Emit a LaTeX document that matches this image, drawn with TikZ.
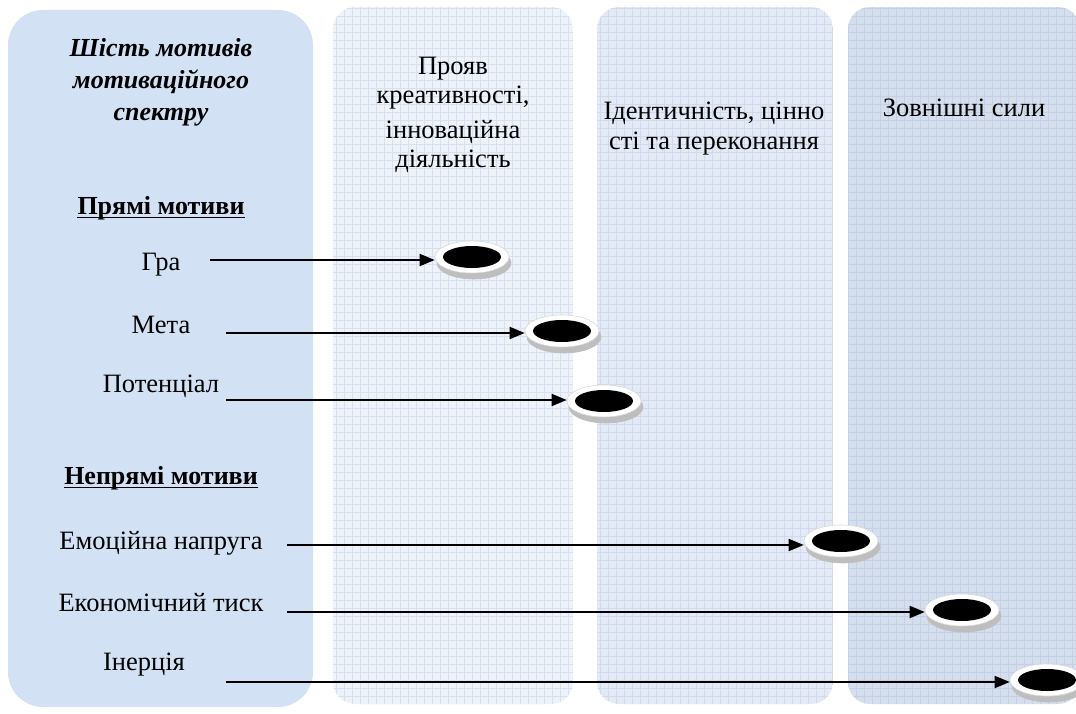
\documentclass[tikz,border=0pt]{standalone}
\usepackage{fontspec}
\setmainfont{Liberation Serif}
\usetikzlibrary{arrows.meta,shapes.geometric}

\definecolor{panelblue}{RGB}{211,225,244}
\definecolor{colA}{RGB}{238,242,249}
\definecolor{colAgrid}{RGB}{214,224,240}
\definecolor{colB}{RGB}{228,234,245}
\definecolor{colBgrid}{RGB}{208,218,236}
\definecolor{colC}{RGB}{213,222,237}
\definecolor{colCgrid}{RGB}{196,208,230}
\definecolor{rimgray}{RGB}{190,190,190}

\tikzset{
    txt/.style={font=\rmfamily\fontsize{26.5}{30}\selectfont, inner sep=0pt, align=center},
    disc/.style={ellipse, fill=white, draw=gray!30, line width=0.6pt,
        minimum width=74pt, minimum height=32pt, inner sep=0pt,
        path picture={\fill[black] (path picture bounding box.center)
            ellipse [x radius=29pt, y radius=11pt];},
        preaction={draw=rimgray, fill=rimgray,
            transform canvas={xshift=2pt, yshift=-6pt}}},
    link/.style={line width=1.8pt, -{Triangle[length=15pt, width=12pt]}},
}

\begin{document}
\begin{tikzpicture}[x=1pt, y=-1pt]
    \useasboundingbox (0,0) rectangle (1076,714);
    % left panel and the three columns
    \fill[panelblue, rounded corners=35pt] (8,10) rectangle (313,707);
    \foreach \a/\b/\c in {333/573/colA, 597/833/colB, 848/1080/colC}{
        \begin{scope}
            \clip[rounded corners=22pt] (\a,7) rectangle (\b,704);
            \fill[\c] (\a,7) rectangle (\b,704);
            \draw[\c grid, line width=0.8pt, step=8pt] (\a,7) grid (\b,704);
        \end{scope}
    }

    % headers
    \node[txt, font=\rmfamily\fontsize{26}{32}\selectfont\bfseries\itshape] (title)
        at (161,82) {Шість мотивів\\мотиваційного\\спектру};
    \node[txt, font=\rmfamily\fontsize{26.5}{29}\selectfont] (creative) at (453,115)
        {Прояв\\креативності,\\[6pt]інноваційна\\діяльність};
    \node[txt] (identity) at (714,129) {Ідентичність, цінно\\сті та переконання};
    \node[txt] (external) at (964,108) {Зовнішні сили};

    \node[txt, font=\rmfamily\fontsize{26}{30}\selectfont\bfseries] (direct)
        at (161,208) {Прямі мотиви};
    \node[txt, font=\rmfamily\fontsize{26}{30}\selectfont\bfseries] (indirect)
        at (161,478) {Непрямі мотиви};
    \foreach \h in {direct, indirect}
        \draw[line width=1.5pt] ([yshift=-3pt]\h.base west) -- ([yshift=-3pt]\h.base east);

    % motives
    \node[txt] (gra) at (161,265) {Гра};
    \node[txt] (meta) at (161,325) {Мета};
    \node[txt] (potential) at (161,386) {Потенціал};
    \node[txt] (emotion) at (161,543) {Емоційна напруга};
    \node[txt] (economy) at (161,603) {Економічний тиск};
    \node[txt] (inertia) at (144,665) {Інерція};

    \coordinate (gra-s) at (210,260);
    \coordinate (meta-s) at (226,333);
    \coordinate (potential-s) at (226,400);
    \coordinate (emotion-s) at (287,545);
    \coordinate (economy-s) at (287,612);
    \coordinate (inertia-s) at (226,682);

    \node[disc] (gra-d) at (472,257) {};
    \node[disc] (meta-d) at (562,331) {};
    \node[disc] (potential-d) at (604,401) {};
    \node[disc] (emotion-d) at (841,541) {};
    \node[disc] (economy-d) at (962,610) {};
    \node[disc] (inertia-d) at (1047,680) {};

    \foreach \m in {gra, meta, potential, emotion, economy, inertia}
        \draw[link] (\m-s) -- (\m-s -| \m-d.west);
\end{tikzpicture}
\end{document}
